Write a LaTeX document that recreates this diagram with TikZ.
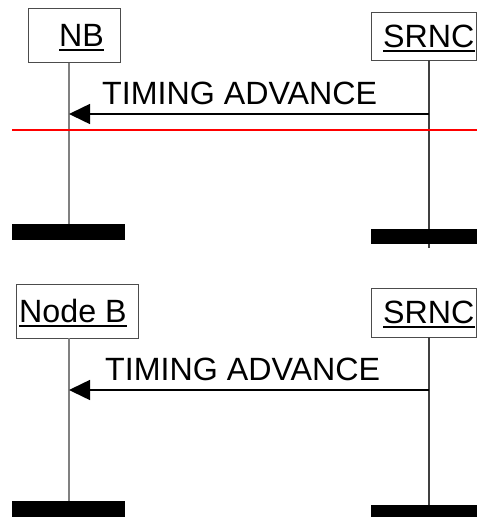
\documentclass[tikz,border=0pt]{standalone}
\usepackage{fontspec}
\setmainfont{Liberation Sans}
\usetikzlibrary{arrows.meta}
\begin{document}
\begin{tikzpicture}[x=1pt,y=-1pt,
  box/.style={draw=black!70,line width=1pt,fill=white,inner sep=0pt},
  lbl/.style={anchor=base west,inner sep=0pt,font=\fontsize{32.2}{36}\selectfont},
  uline/.style={line width=2pt},
  life/.style={draw=black!50,line width=1.3pt},
  lifeb/.style={draw=black!75,line width=1.2pt},
  bar/.style={fill=black,inner sep=0pt},
  msg/.style={line width=1.5pt,-{Triangle[length=21pt,width=20pt]}},
  cut/.style={draw=red,line width=1.5pt}]
\useasboundingbox (0,0) rectangle (477,517);
% ---------- top diagram ----------
\node[box,minimum width=92pt,minimum height=54pt] (nb1) at (74,35) {};
\node[lbl] (nb1t) at (59,46) {NB};
\draw[uline] ([yshift=-4pt]nb1t.base west) -- ([yshift=-4pt]nb1t.base east);
\node[box,minimum width=105pt,minimum height=48pt] (sr1) at (423.5,36) {};
\node[lbl] (sr1t) at (383,47) {SRNC};
\draw[uline] ([yshift=-4pt]sr1t.base west) -- ([yshift=-4pt]sr1t.base east);
\node[bar,minimum width=113pt,minimum height=16pt] (bar1a) at (68.5,232) {};
\coordinate (s1top) at (429,60);
\coordinate (s1bot) at (429,248);
\draw[lifeb] (s1top) -- (s1bot);
\node[bar,minimum width=106pt,minimum height=15pt] (bar1b) at (424,236.5) {};
\draw[life] (bar1a.north |- nb1.south) ++(0.5,0) coordinate (n1top) -- (n1top |- bar1a.north);
\coordinate (m1s) at (429,114);
\coordinate (m1e) at (69,114);
\draw[msg] (m1s) -- (m1e);
\node[lbl] (m1t) at (102,104) {TIMING ADVANCE};
\coordinate (r1) at (12,130);
\coordinate (r2) at (477,130);
\draw[cut] (r1) -- (r2);
% ---------- bottom diagram ----------
\node[box,minimum width=122pt,minimum height=54pt] (nb2) at (77,311) {};
\node[lbl] (nb2t) at (19,322) {Node B};
\draw[uline] ([yshift=-4pt]nb2t.base west) -- ([yshift=-4pt]nb2t.base east);
\node[box,minimum width=105pt,minimum height=49pt] (sr2) at (423.5,312.5) {};
\node[lbl] (sr2t) at (383,323) {SRNC};
\draw[uline] ([yshift=-4pt]sr2t.base west) -- ([yshift=-4pt]sr2t.base east);
\node[bar,minimum width=113pt,minimum height=16pt] (bar2a) at (68.5,509) {};
\coordinate (n2top) at (69,338);
\coordinate (n2bot) at (69,501);
\draw[life] (n2top) -- (n2bot);
\coordinate (s2top) at (429,337);
\coordinate (s2bot) at (429,505);
\draw[lifeb] (s2top) -- (s2bot);
\node[bar,minimum width=106pt,minimum height=12pt] (bar2b) at (424,511) {};
\coordinate (m2s) at (429,390);
\coordinate (m2e) at (69,390);
\draw[msg] (m2s) -- (m2e);
\node[lbl] (m2t) at (105,380) {TIMING ADVANCE};
\end{tikzpicture}
\end{document}
